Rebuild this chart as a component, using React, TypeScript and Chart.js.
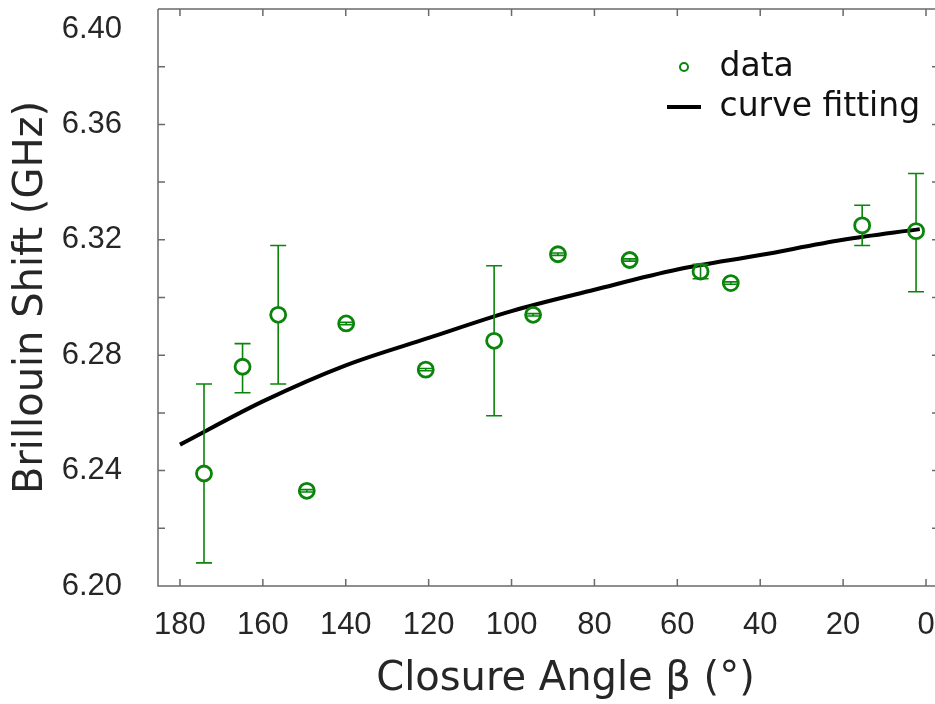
import React, { useEffect, useRef } from 'react';
import { Chart, registerables } from 'chart.js';

Chart.register(...registerables);

// ---- data ----
const angles = [174.2, 164.9, 156.3, 149.4, 139.9, 120.7, 104.2, 94.8, 88.8, 71.5, 54.4, 47.1, 15.4, 2.4];
const shifts = [6.239, 6.276, 6.294, 6.233, 6.291, 6.275, 6.285, 6.294, 6.315, 6.313, 6.309, 6.305, 6.325, 6.323];
const errLow = [6.208, 6.267, 6.270, 6.2326, 6.2906, 6.2746, 6.259, 6.2936, 6.3146, 6.3126, 6.3065, 6.3046, 6.318, 6.302];
const errHigh = [6.270, 6.284, 6.318, 6.2334, 6.2914, 6.2754, 6.311, 6.2944, 6.3154, 6.3134, 6.3115, 6.3054, 6.332, 6.343];

const fitAngles = [180, 160, 140, 120, 100, 80, 60, 40, 20, 1.5];
const fitShifts = [6.249, 6.264, 6.2765, 6.286, 6.2953, 6.3027, 6.3097, 6.3147, 6.32, 6.3237];

const xTicks = [180, 160, 140, 120, 100, 80, 60, 40, 20, 0];
const yMajor = [6.2, 6.24, 6.28, 6.32, 6.36, 6.4];
const yMinor = [6.22, 6.26, 6.3, 6.34, 6.38];

const xLabel = 'Closure Angle β (°)';
const yLabel = 'Brillouin Shift (GHz)';
const seriesNames = ['data', 'curve fitting'];

const GREEN = 'rgb(10,132,10)';
const AXIS = '#6a6a6a';
const TEXT = '#262626';
const TICK_FONT = "'Liberation Sans', Arial, sans-serif";
const TITLE_FONT = "'DejaVu Sans', Verdana, sans-serif";

export default function App() {
  const ref = useRef<HTMLCanvasElement | null>(null);

  useEffect(() => {
    document.body.style.margin = '0';
    const canvas = ref.current;
    if (!canvas) return;

    // legend marker images
    const circ = document.createElement('canvas');
    circ.width = 14; circ.height = 14;
    const cc = circ.getContext('2d')!;
    cc.strokeStyle = GREEN; cc.lineWidth = 2;
    cc.beginPath(); cc.arc(7, 7, 4, 0, Math.PI * 2); cc.stroke();

    const lineImg = document.createElement('canvas');
    lineImg.width = 34; lineImg.height = 4;
    const lc = lineImg.getContext('2d')!;
    lc.fillStyle = '#000'; lc.fillRect(0, 0, 34, 4);

    const errorBars = {
      id: 'errorBars',
      afterDatasetsDraw(chart: any) {
        const { ctx, scales: { x, y } } = chart;
        ctx.save();
        ctx.strokeStyle = GREEN;
        ctx.lineWidth = 1.6;
        const r = 7.5;
        const cap = 8;
        angles.forEach((a, i) => {
          const cx = x.getPixelForValue(a);
          const cy = y.getPixelForValue(shifts[i]);
          const lo = y.getPixelForValue(errLow[i]);
          const hi = y.getPixelForValue(errHigh[i]);
          ctx.beginPath();
          if (lo - cy > r + 1 && cy - hi > r + 1) {
            ctx.moveTo(cx, lo); ctx.lineTo(cx, cy + r);
            ctx.moveTo(cx, cy - r); ctx.lineTo(cx, hi);
          } else {
            ctx.moveTo(cx, lo); ctx.lineTo(cx, hi);
          }
          ctx.moveTo(cx - cap, lo); ctx.lineTo(cx + cap, lo);
          ctx.moveTo(cx - cap, hi); ctx.lineTo(cx + cap, hi);
          ctx.stroke();
        });
        ctx.restore();
      },
    };

    const frame = {
      id: 'frame',
      afterDraw(chart: any) {
        const { ctx, chartArea: { left, right, top, bottom }, scales: { x, y } } = chart;
        ctx.save();
        ctx.strokeStyle = AXIS;
        ctx.lineWidth = 1.5;
        ctx.beginPath();
        ctx.moveTo(left, top); ctx.lineTo(left, bottom); ctx.lineTo(right, bottom);
        ctx.moveTo(left, top); ctx.lineTo(right, top);
        xTicks.forEach((v) => {
          const px = x.getPixelForValue(v);
          ctx.moveTo(px, bottom); ctx.lineTo(px, bottom - 7);
          ctx.moveTo(px, top); ctx.lineTo(px, top + 7);
        });
        [...yMajor, ...yMinor].forEach((v) => {
          const py = y.getPixelForValue(v);
          ctx.moveTo(left, py); ctx.lineTo(left + 7, py);
          ctx.moveTo(right, py); ctx.lineTo(right - 3, py);
        });
        ctx.stroke();
        ctx.restore();
      },
    };

    const layoutTweaks = {
      id: 'layoutTweaks',
      afterLayout(chart: any) {
        const lg = chart.legend;
        if (lg) {
          const w = lg.width, h = lg.height;
          lg.left = 658; lg.top = 43.5;
          lg.right = lg.left + w; lg.bottom = lg.top + h;
        }
        // shift the x-axis title centre to where the reference has it
        const xs = chart.scales.x;
        if (xs) xs.right = xs.right + 38;
      },
    };

    const chart = new Chart(canvas, {
      type: 'scatter',
      data: {
        datasets: [
          {
            label: seriesNames[0],
            data: angles.map((a, i) => ({ x: a, y: shifts[i] })),
            pointStyle: 'circle',
            pointRadius: 7.5,
            pointBorderWidth: 2.8,
            borderColor: GREEN,
            backgroundColor: 'rgba(0,0,0,0)',
            showLine: false,
          },
          {
            label: seriesNames[1],
            data: fitAngles.map((a, i) => ({ x: a, y: fitShifts[i] })),
            showLine: true,
            pointRadius: 0,
            borderColor: '#000',
            backgroundColor: '#000',
            borderWidth: 4,
            cubicInterpolationMode: 'monotone',
          } as any,
        ],
      },
      options: {
        animation: false,
        responsive: false,
        devicePixelRatio: 1,
        layout: { padding: { top: 9, right: 0, left: 0, bottom: 0 }, autoPadding: false } as any,
        plugins: {
          tooltip: { enabled: false },
          legend: {
            display: true,
            position: 'chartArea' as any,
            align: 'start',
            labels: {
              usePointStyle: true,
              pointStyleWidth: 38,
              padding: 7,
              color: '#111',
              font: { family: TITLE_FONT, size: 33 },
              generateLabels: (ch: any) => {
                const items = (Chart.defaults.plugins.legend.labels as any).generateLabels(ch);
                return items.map((it: any, i: number) => ({ ...it, pointStyle: i === 0 ? circ : lineImg }));
              },
            },
          },
        },
        scales: {
          x: {
            type: 'linear',
            reverse: true,
            min: -2.17,
            max: 185.3,
            afterBuildTicks: (s: any) => { s.ticks = xTicks.map((v) => ({ value: v })); },
            afterFit: (s: any) => { s.height = 118; s.paddingLeft = 0; s.paddingRight = 0; },
            grid: { display: false, drawTicks: false },
            border: { display: false },
            ticks: {
              autoSkip: false,
              maxRotation: 0,
              padding: 21,
              color: TEXT,
              font: { family: TICK_FONT, size: 31, lineHeight: 1.2 },
              callback: (v: any) => String(v),
            },
            title: {
              display: true,
              text: xLabel,
              color: TEXT,
              font: { family: TITLE_FONT, size: 40, lineHeight: 1.2 },
              padding: { top: 0, bottom: 0 },
            },
          },
          y: {
            type: 'linear',
            min: 6.2,
            max: 6.4,
            afterBuildTicks: (s: any) => {
              s.ticks = [...yMajor, ...yMinor].sort((a, b) => a - b).map((v) => ({ value: v }));
            },
            afterFit: (s: any) => { s.width = 158; s.paddingTop = 0; s.paddingBottom = 0; },
            grid: { display: false, drawTicks: false },
            border: { display: false },
            ticks: {
              autoSkip: false,
              padding: 36,
              color: TEXT,
              font: { family: TICK_FONT, size: 31, lineHeight: 1.3 },
              callback: (v: any) => {
                const m = yMajor.find((t) => Math.abs(t - v) < 1e-6);
                if (m === undefined) return '';
                const lab = m.toFixed(2);
                return m === yMajor[yMajor.length - 1] ? ['', lab] : lab;
              },
            },
            title: {
              display: true,
              text: yLabel,
              color: TEXT,
              font: { family: TITLE_FONT, size: 40, lineHeight: 1.2 },
              padding: { top: 8, bottom: 0 },
            },
          },
        },
      } as any,
      plugins: [errorBars, frame, layoutTweaks],
    });

    return () => chart.destroy();
  }, []);

  return <canvas ref={ref} width={935} height={704} style={{ display: 'block' }} />;
}
